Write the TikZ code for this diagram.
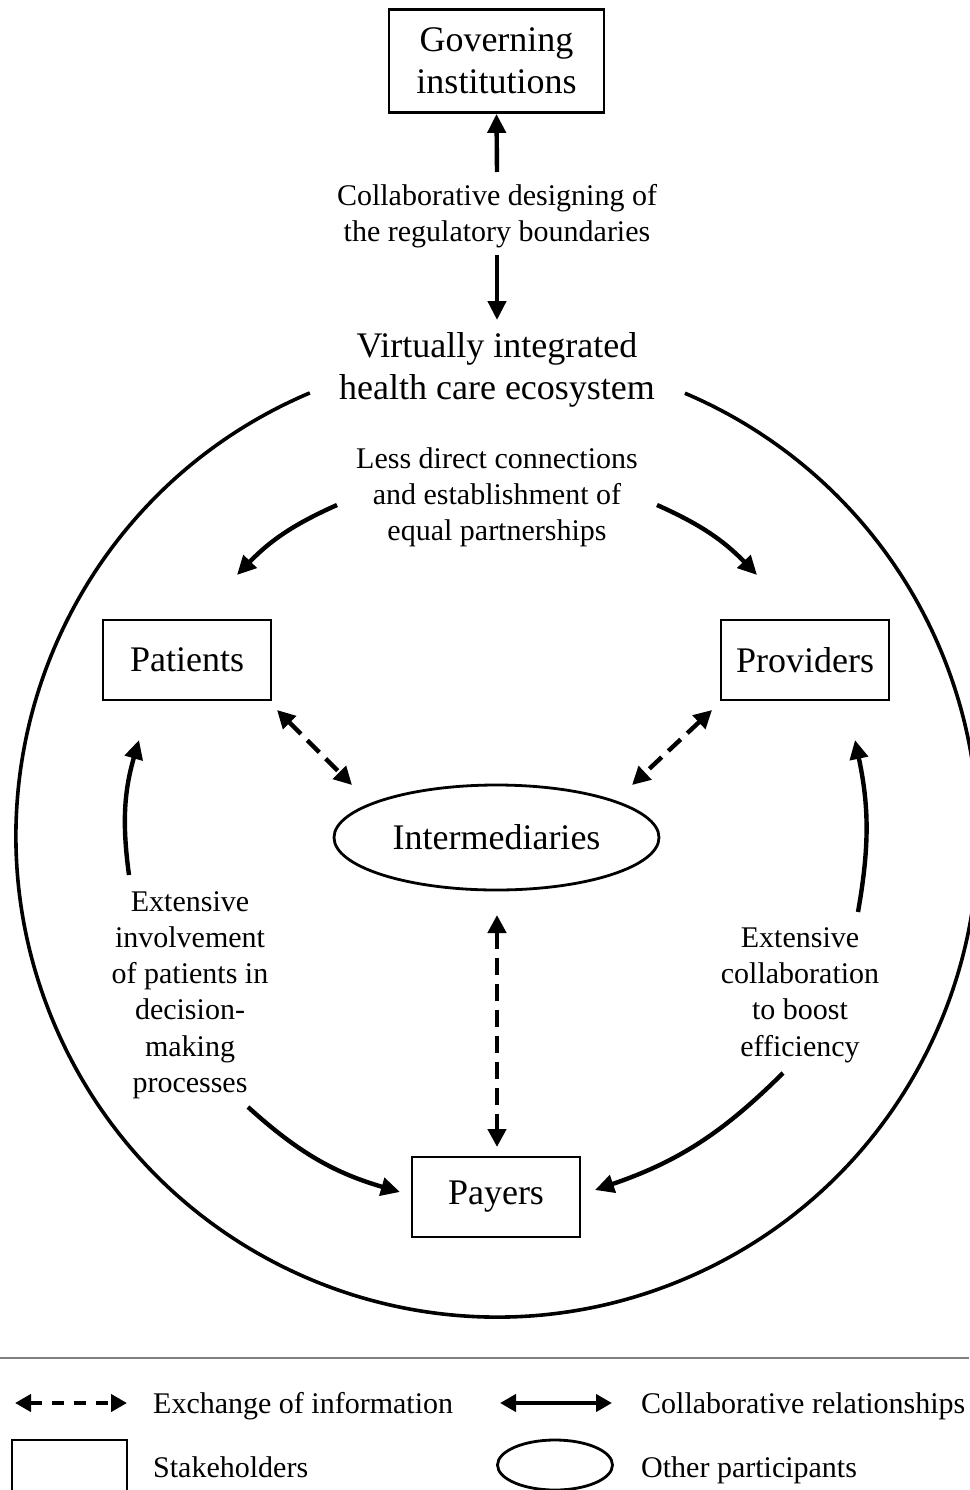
\documentclass[tikz,border=0pt]{standalone}
\usepackage{fontspec}
\setmainfont{Liberation Serif}
\usetikzlibrary{arrows.meta,shapes.geometric,calc}
\newcommand\bigfs{\fontsize{36}{42.5}\selectfont}
\newcommand\smallfs{\fontsize{30}{36.2}\selectfont}
\begin{document}
\begin{tikzpicture}[x=1pt,y=1pt,
  stakebox/.style={draw, line width=2.8pt, minimum width=168pt, minimum height=80pt, inner sep=0pt, font=\bigfs},
  otherbox/.style={draw, ellipse, line width=2.8pt, minimum width=325pt, minimum height=105pt, inner sep=0pt, font=\bigfs},
  bigtxt/.style={align=center, inner sep=0pt, font=\bigfs},
  smalltxt/.style={align=center, inner sep=0pt, font=\smallfs},
  legtxt/.style={inner sep=0pt, font=\smallfs, anchor=base west},
  sarrow/.style={line width=4.4pt, -{Triangle[length=19pt,width=18pt]}},
  ddarrow/.style={line width=4.4pt, dash pattern=on 17pt off 9pt, {Triangle[length=18pt,width=18pt]}-{Triangle[length=18pt,width=18pt]}},
  ring/.style={line width=3.6pt},
]
\useasboundingbox (0,0) rectangle (969,-1490);

% nodes
\node[stakebox, minimum width=215pt, minimum height=103pt, align=center] (gov) at (496.5,-61) {Governing\\institutions};
\node[smalltxt] (collab) at (497,-216) {Collaborative designing of\\the regulatory boundaries};
\node[bigtxt] (eco) at (497,-370) {Virtually integrated\\health care ecosystem};
\node[smalltxt] (less) at (497,-497) {Less direct connections\\and establishment of\\equal partnerships};
\node[stakebox] (pat) at (187,-660) {Patients};
\node[stakebox] (prov) at (805,-660) {Providers};
\node[stakebox] (pay) at (496,-1197) {Payers};
\node[otherbox] (inter) at (496.5,-837.5) {Intermediaries};
\node[smalltxt] (lt) at (190,-995) {Extensive\\involvement\\of patients in\\decision-\\making\\processes};
\node[smalltxt] (rt) at (800,-995) {Extensive\\collaboration\\to boost\\efficiency};

% big broken circle
\coordinate (ctr) at (497,-836);
\draw[ring] (ctr) ++(112.9:481) arc[start angle=112.9, end angle=427, radius=481];

% free arrow ends
\coordinate (a1) at (497,-172);
\coordinate (a2) at (497,-255);
\coordinate (a3) at (497,-320);
\coordinate (b1) at (337,-505);
\coordinate (b2) at (237,-575);
\coordinate (b3) at (657,-505);
\coordinate (b4) at (757,-575);
\coordinate (d1) at (277,-710);
\coordinate (d2) at (352,-785);
\coordinate (d3) at (712,-710);
\coordinate (d4) at (632,-785);
\coordinate (d5) at (497,-915);
\coordinate (d6) at (497,-1147);
\coordinate (e1) at (129,-875);
\coordinate (e2) at (139,-740);
\coordinate (e3) at (248,-1107);
\coordinate (e4) at (400,-1192);
\coordinate (f1) at (858,-912);
\coordinate (f2) at (855,-740);
\coordinate (f3) at (783,-1073);
\coordinate (f4) at (595,-1190);

\draw[sarrow] (a1) -- (gov.south);
\draw[sarrow] (a2) -- (a3);
\draw[sarrow] (b1) to[bend right=11] (b2);
\draw[sarrow] (b3) to[bend left=11] (b4);
\draw[ddarrow] (d1) -- (d2);
\draw[ddarrow] (d3) -- (d4);
\draw[ddarrow] (d5) -- (d6);
\draw[sarrow] (e1) to[bend left=12] (e2);
\draw[sarrow] (e3) to[bend right=13] (e4);
\draw[sarrow] (f1) to[bend right=11] (f2);
\draw[sarrow] (f3) to[bend left=13] (f4);

% legend
\coordinate (g1) at (0,-1358);
\coordinate (g2) at (969,-1358);
\draw[line width=2pt, gray] (g1) -- (g2);
\coordinate (la1) at (15,-1403);
\coordinate (la2) at (127,-1403);
\draw[line width=4.4pt, dash pattern=on 12pt off 10pt, {Triangle[length=16pt,width=17pt]}-{Triangle[length=16pt,width=17pt]}] (la1) -- (la2);
\node[legtxt] (lx1) at (153,-1413) {Exchange of information};
\coordinate (lb1) at (500,-1403);
\coordinate (lb2) at (612,-1403);
\draw[line width=4.4pt, {Triangle[length=16pt,width=17pt]}-{Triangle[length=16pt,width=17pt]}] (lb1) -- (lb2);
\node[legtxt] (lx2) at (641,-1413) {Collaborative relationships};
\node[draw, line width=2.8pt, minimum width=115pt, minimum height=60pt, inner sep=0pt] (legbox) at (69.5,-1470) {};
\node[legtxt] (lx3) at (153,-1477) {Stakeholders};
\node[draw, ellipse, line width=2.8pt, minimum width=115pt, minimum height=50pt, inner sep=0pt] (legell) at (555,-1465) {};
\node[legtxt] (lx4) at (641,-1477) {Other participants};
\end{tikzpicture}
\end{document}
